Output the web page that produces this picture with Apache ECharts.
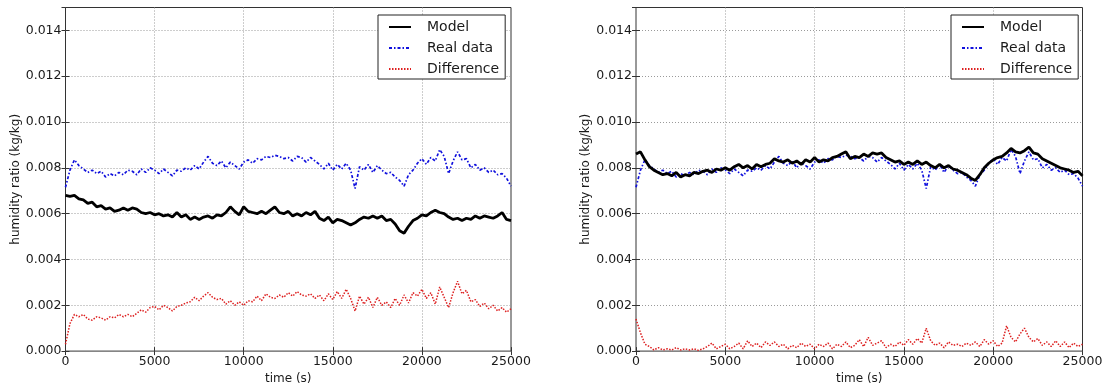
<!DOCTYPE html>
<html>
<head>
<meta charset="utf-8">
<script src="https://cdn.jsdelivr.net/npm/echarts@6/dist/echarts.min.js"></script>
<style>
html,body{margin:0;padding:0;background:#fff;}
#c{width:1107px;height:390px;}
</style>
</head>
<body>
<div id="c"></div>
<script>
// time (s)
var times = [0,250,500,750,1000,1250,1500,1750,2000,2250,2500,2750,3000,3250,3500,3750,4000,4250,4500,4750,
5000,5250,5500,5750,6000,6250,6500,6750,7000,7250,7500,7750,8000,8250,8500,8750,9000,9250,9500,9750,
10000,10250,10500,10750,11000,11250,11500,11750,12000,12250,12500,12750,13000,13250,13500,13750,14000,14250,14500,14750,
15000,15250,15500,15750,16000,16250,16500,16750,17000,17250,17500,17750,18000,18250,18500,18750,19000,19250,19500,19750,
20000,20250,20500,20750,21000,21250,21500,21750,22000,22250,22500,22750,23000,23250,23500,23750,24000,24250,24500,24750,25000];

// Real data (same measured series in both panels)
var realData = [0.00715,0.00790,0.00835,0.00810,0.00795,0.00780,0.00790,0.00775,0.00785,0.00760,
0.00775,0.00765,0.00780,0.00770,0.00790,0.00785,0.00770,0.00795,0.00780,0.00800,
0.00790,0.00775,0.00795,0.00780,0.00765,0.00790,0.00785,0.00800,0.00790,0.00810,
0.00795,0.00825,0.00850,0.00820,0.00810,0.00830,0.00800,0.00825,0.00810,0.00795,
0.00825,0.00835,0.00820,0.00840,0.00835,0.00850,0.00845,0.00855,0.00850,0.00840,
0.00845,0.00830,0.00850,0.00845,0.00825,0.00845,0.00830,0.00815,0.00795,0.00820,
0.00790,0.00815,0.00795,0.00820,0.00790,0.00710,0.00805,0.00790,0.00815,0.00780,
0.00810,0.00790,0.00775,0.00780,0.00760,0.00745,0.00720,0.00770,0.00790,0.00820,
0.00840,0.00815,0.00845,0.00830,0.00880,0.00850,0.00775,0.00830,0.00870,0.00835,
0.00840,0.00800,0.00815,0.00790,0.00800,0.00780,0.00790,0.00770,0.00775,0.00755,0.00720];

// Left panel model
var modelLeft = [0.00680,0.00675,0.00680,0.00665,0.00660,0.00645,0.00650,0.00630,0.00635,0.00620,
0.00625,0.00610,0.00615,0.00625,0.00615,0.00625,0.00620,0.00605,0.00600,0.00605,
0.00595,0.00600,0.00590,0.00595,0.00585,0.00605,0.00585,0.00595,0.00575,0.00585,
0.00575,0.00585,0.00590,0.00580,0.00595,0.00590,0.00605,0.00630,0.00610,0.00595,
0.00630,0.00610,0.00605,0.00600,0.00610,0.00600,0.00615,0.00630,0.00605,0.00600,
0.00610,0.00590,0.00600,0.00590,0.00605,0.00595,0.00610,0.00580,0.00570,0.00585,
0.00560,0.00575,0.00570,0.00560,0.00550,0.00560,0.00575,0.00585,0.00580,0.00590,
0.00580,0.00590,0.00570,0.00575,0.00555,0.00525,0.00515,0.00545,0.00570,0.00580,
0.00595,0.00590,0.00605,0.00615,0.00605,0.00600,0.00585,0.00575,0.00580,0.00570,
0.00580,0.00575,0.00590,0.00580,0.00590,0.00585,0.00580,0.00590,0.00605,0.00575,0.00570];

// Left panel difference
var diffLeft = [0.00030,0.00120,0.00160,0.00150,0.00160,0.00140,0.00135,0.00150,0.00145,0.00135,
0.00150,0.00145,0.00160,0.00150,0.00160,0.00150,0.00165,0.00180,0.00170,0.00190,
0.00195,0.00180,0.00200,0.00190,0.00175,0.00195,0.00200,0.00210,0.00215,0.00235,
0.00220,0.00240,0.00255,0.00235,0.00225,0.00230,0.00205,0.00220,0.00200,0.00215,
0.00200,0.00220,0.00215,0.00240,0.00220,0.00250,0.00235,0.00230,0.00245,0.00235,
0.00255,0.00240,0.00260,0.00245,0.00240,0.00250,0.00230,0.00245,0.00220,0.00250,
0.00225,0.00260,0.00230,0.00270,0.00230,0.00175,0.00240,0.00205,0.00235,0.00190,
0.00235,0.00200,0.00215,0.00190,0.00230,0.00200,0.00245,0.00210,0.00255,0.00240,
0.00270,0.00230,0.00255,0.00205,0.00280,0.00235,0.00190,0.00255,0.00305,0.00250,
0.00265,0.00215,0.00225,0.00195,0.00210,0.00185,0.00200,0.00175,0.00190,0.00170,0.00185];

// Right panel model
var modelRight = [0.00860,0.00870,0.00835,0.00805,0.00790,0.00780,0.00770,0.00775,0.00765,0.00780,
0.00760,0.00770,0.00765,0.00780,0.00775,0.00785,0.00790,0.00780,0.00795,0.00790,
0.00800,0.00790,0.00805,0.00815,0.00800,0.00810,0.00795,0.00815,0.00805,0.00815,
0.00820,0.00840,0.00830,0.00825,0.00835,0.00820,0.00830,0.00815,0.00835,0.00825,
0.00845,0.00825,0.00835,0.00830,0.00845,0.00850,0.00860,0.00870,0.00840,0.00850,
0.00845,0.00860,0.00850,0.00865,0.00860,0.00865,0.00845,0.00835,0.00825,0.00830,
0.00815,0.00825,0.00815,0.00830,0.00815,0.00825,0.00810,0.00800,0.00815,0.00800,
0.00810,0.00795,0.00790,0.00780,0.00770,0.00755,0.00745,0.00770,0.00800,0.00820,
0.00835,0.00845,0.00850,0.00865,0.00885,0.00870,0.00865,0.00875,0.00890,0.00865,
0.00860,0.00840,0.00830,0.00820,0.00810,0.00800,0.00795,0.00790,0.00780,0.00785,0.00765];

// Right panel difference
var diffRight = [0.00140,0.00080,0.00030,0.00020,0.00005,0.00015,0.00005,0.00010,0.00005,0.00015,
0.00005,0.00010,0.00005,0.00010,0.00003,0.00010,0.00020,0.00035,0.00010,0.00020,
0.00030,0.00010,0.00020,0.00035,0.00010,0.00045,0.00020,0.00035,0.00015,0.00040,
0.00025,0.00040,0.00020,0.00030,0.00010,0.00025,0.00015,0.00035,0.00020,0.00030,
0.00010,0.00030,0.00020,0.00035,0.00010,0.00030,0.00020,0.00040,0.00015,0.00025,
0.00050,0.00020,0.00060,0.00025,0.00035,0.00045,0.00015,0.00030,0.00020,0.00040,
0.00025,0.00050,0.00030,0.00055,0.00035,0.00100,0.00045,0.00025,0.00035,0.00015,
0.00040,0.00025,0.00030,0.00020,0.00035,0.00025,0.00040,0.00020,0.00050,0.00030,
0.00045,0.00020,0.00035,0.00110,0.00060,0.00040,0.00075,0.00100,0.00060,0.00040,
0.00055,0.00025,0.00040,0.00020,0.00045,0.00020,0.00040,0.00015,0.00035,0.00020,0.00030];

var seriesNames = ['Model', 'Real data', 'Difference'];
var xTicks = {min: 0, max: 25000, interval: 5000};
var yTicks = {min: 0, max: 0.015, interval: 0.002};

function pairs(arr) { return times.map(function (t, i) { return [t, arr[i]]; }); }

var FONT = 'DejaVu Sans';
var TXT = '#1a1a1a';

function mainX(gi) {
  return {
    type: 'value', gridIndex: gi, min: xTicks.min, max: xTicks.max, interval: xTicks.interval,
    name: 'time (s)', nameLocation: 'middle', nameGap: 19,
    nameTextStyle: {fontFamily: FONT, fontSize: 12, color: TXT},
    axisLine: {show: false},
    axisTick: {show: true, inside: true, length: 4, lineStyle: {color: '#333'}},
    axisLabel: {fontFamily: FONT, fontSize: 12.5, color: TXT, margin: 4,
      formatter: function (v) { return String(v); }},
    splitLine: {show: true, showMinLine: false, showMaxLine: false,
      lineStyle: {color: '#9a9a9a', type: [1, 2], width: 1}}
  };
}
function topX(gi) {
  return {
    type: 'value', gridIndex: gi, position: 'top', min: xTicks.min, max: xTicks.max, interval: xTicks.interval,
    axisLine: {show: false}, axisLabel: {show: false}, splitLine: {show: false},
    axisTick: {show: true, inside: true, length: 4, lineStyle: {color: '#333'}}
  };
}
function mainY(gi) {
  return {
    type: 'value', gridIndex: gi, min: yTicks.min, max: yTicks.max, interval: yTicks.interval,
    name: 'humidity ratio (kg/kg)', nameLocation: 'middle', nameGap: 43,
    nameTextStyle: {fontFamily: FONT, fontSize: 12, color: TXT},
    axisLine: {show: false},
    axisTick: {show: true, inside: true, length: 4, lineStyle: {color: '#333'}},
    axisLabel: {fontFamily: FONT, fontSize: 12.5, color: TXT, margin: 4,
      formatter: function (v) { return v > 0.0145 ? '' : v.toFixed(3); }},
    splitLine: {show: true, showMinLine: false, showMaxLine: false,
      lineStyle: {color: '#9a9a9a', type: [1, 2], width: 1}}
  };
}
function rightY(gi) {
  return {
    type: 'value', gridIndex: gi, position: 'right', min: yTicks.min, max: yTicks.max, interval: yTicks.interval,
    axisLine: {show: false}, axisLabel: {show: false}, splitLine: {show: false},
    axisTick: {show: true, inside: true, length: 4, lineStyle: {color: '#333'}}
  };
}
function legend(left) {
  return {
    left: left, top: 15, orient: 'vertical', data: seriesNames,
    backgroundColor: '#fff', borderColor: '#222', borderWidth: 1, borderRadius: 0,
    padding: [5, 6, 3, 10], itemWidth: 22, itemHeight: 14, itemGap: 7,
    itemStyle: {opacity: 0},
    textStyle: {fontFamily: FONT, fontSize: 14, color: TXT, padding: [0, 0, 0, 11], lineHeight: 14},
    selectedMode: false
  };
}
function seriesFor(idx, model, diff) {
  return [
    {name: 'Model', type: 'line', xAxisIndex: idx * 2, yAxisIndex: idx * 2, data: pairs(model),
      symbol: 'none', z: 3, lineStyle: {color: '#000', width: 2.8}, itemStyle: {color: '#000'}},
    {name: 'Real data', type: 'line', xAxisIndex: idx * 2, yAxisIndex: idx * 2, data: pairs(realData),
      symbol: 'none', z: 2, lineStyle: {color: '#1010dd', width: 1.7, type: [3, 2, 1.5, 2]}, itemStyle: {color: '#1010dd'}},
    {name: 'Difference', type: 'line', xAxisIndex: idx * 2, yAxisIndex: idx * 2, data: pairs(diff),
      symbol: 'none', z: 2, lineStyle: {color: '#dd1f1f', width: 1.5, type: [1.5, 1.5]}, itemStyle: {color: '#dd1f1f'}}
  ];
}

var chart = echarts.init(document.getElementById('c'), null, {renderer: 'canvas'});
chart.setOption({
  animation: false,
  backgroundColor: '#fff',
  grid: [
    {left: 65.5, top: 7.5, width: 445.5, height: 346, show: true, borderColor: '#333', borderWidth: 1, backgroundColor: 'transparent'},
    {left: 636, top: 7.5, width: 446.5, height: 346, show: true, borderColor: '#333', borderWidth: 1, backgroundColor: 'transparent'}
  ],
  legend: [legend(378), legend(951)],
  xAxis: [mainX(0), topX(0), mainX(1), topX(1)],
  yAxis: [mainY(0), rightY(0), mainY(1), rightY(1)],
  series: [].concat(seriesFor(0, modelLeft, diffLeft), seriesFor(1, modelRight, diffRight))
});
</script>
</body>
</html>
